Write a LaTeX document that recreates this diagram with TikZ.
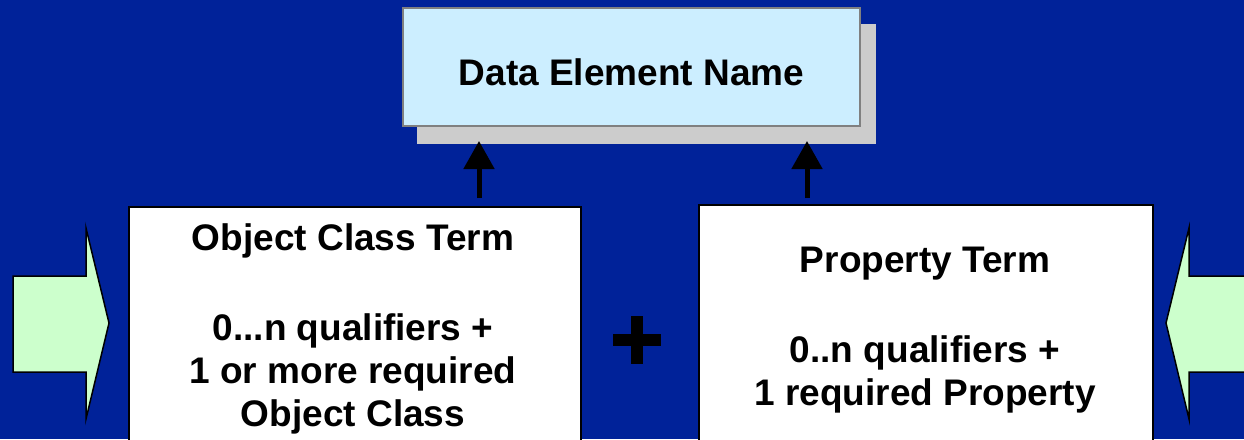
\documentclass[tikz,border=0pt]{standalone}
\usepackage{fontspec}
\setmainfont{Liberation Sans}
\usetikzlibrary{arrows.meta}
\definecolor{bgblue}{RGB}{0,34,153}
\definecolor{lightblue}{RGB}{204,238,255}
\definecolor{lightgreen}{RGB}{204,255,204}
\definecolor{shadowgray}{RGB}{204,204,204}
\tikzset{
  termbox/.style={draw=black, line width=2pt, fill=white, inner sep=0pt},
  namebox/.style={draw=gray, line width=1.5pt, fill=lightblue, inner sep=0pt},
  label/.style={anchor=base, font=\fontsize{37}{43}\selectfont\bfseries, inner sep=0pt},
  blockarrow/.style={draw=black, line width=1.5pt, fill=lightgreen, line join=miter},
  uparrow/.style={line width=5pt, -{Triangle[width=30pt,length=28pt]}},
}
\begin{document}
\begin{tikzpicture}[x=1pt,y=-1pt]
\useasboundingbox (0,0) rectangle (1244,439);
\clip (0,0) rectangle (1244,439);
\fill[bgblue] (0,0) rectangle (1244,439);
% shadow and top box
\fill[shadowgray] (417,24) rectangle (876,144);
\node[namebox, minimum width=457pt, minimum height=118pt] (den) at (631.5,67) {};
\node[label] (dent) at (631.5,85) {Data Element Name};
% term boxes
\node[termbox, minimum width=452pt, minimum height=240pt] (ocb) at (355,327) {};
\node[termbox, minimum width=454pt, minimum height=240pt] (ptb) at (926,325) {};
\node[label] (oc1) at (353,250) {Object Class Term};
\node[label] (oc2) at (353,340) {0...n qualifiers +};
\node[label] (oc3) at (353,383) {1 or more required};
\node[label] (oc4) at (353,426) {Object Class};
\node[label] (pt1) at (925,272) {Property Term};
\node[label] (pt2) at (925,362) {0..n qualifiers +};
\node[label] (pt3) at (925,405) {1 required Property};
% up arrows
\coordinate (a1s) at (479,198);
\coordinate (a1e) at (479,141);
\coordinate (a2s) at (807,198);
\coordinate (a2e) at (807,141);
\draw[uparrow] (a1s) -- (a1e);
\draw[uparrow] (a2s) -- (a2e);
% plus sign
\fill[black] (613,334) rectangle (661,346);
\fill[black] (631,316) rectangle (643,364);
% block arrows
\draw[blockarrow] (13,276) -- (86,276) -- (86,228) -- (109,323) -- (86,419) -- (86,372) -- (13,372) -- cycle;
\draw[blockarrow] (1255,276) -- (1189,276) -- (1189,228) -- (1166,323) -- (1189,419) -- (1189,372) -- (1255,372);
\end{tikzpicture}
\end{document}
